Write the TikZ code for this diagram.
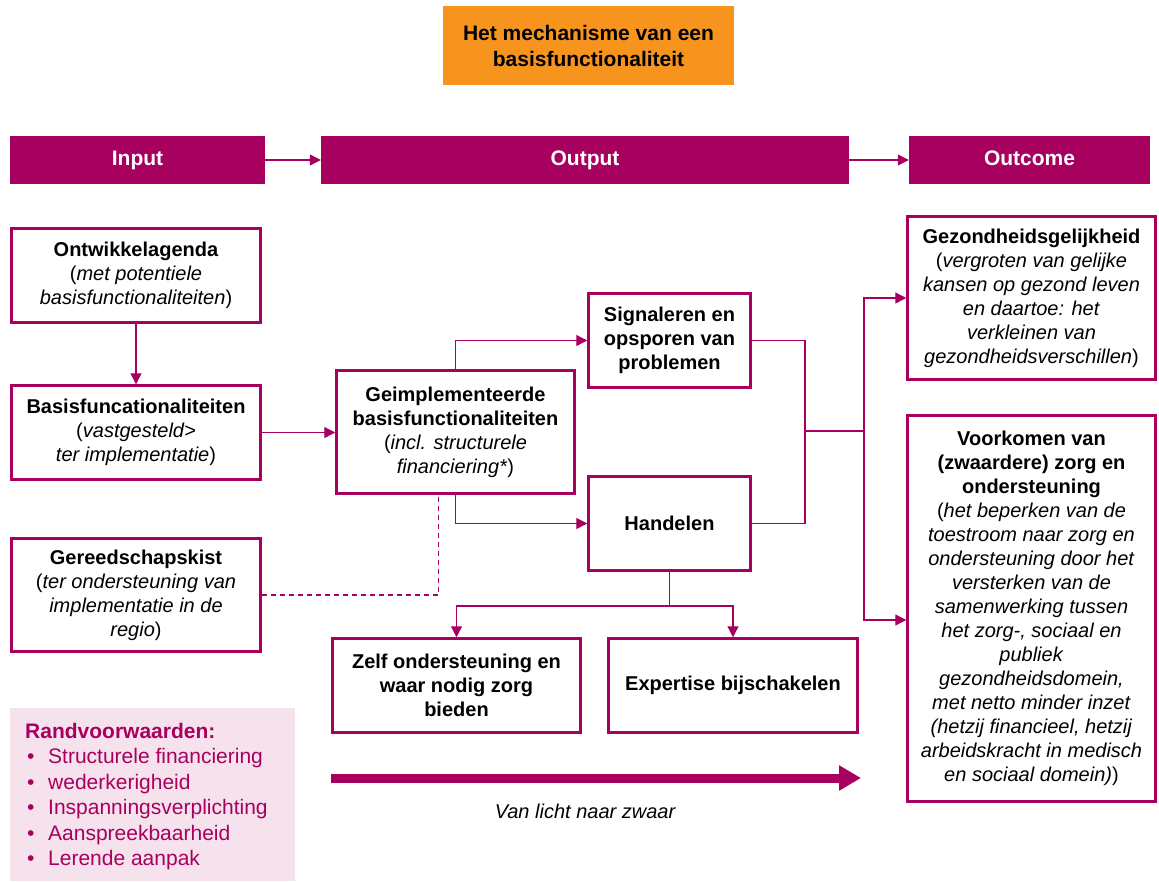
\documentclass[tikz,border=0pt]{standalone}
\usepackage{fontspec}
\setmainfont{Liberation Sans}
\usetikzlibrary{arrows.meta}

\definecolor{paars}{RGB}{168,0,94}
\definecolor{oranje}{RGB}{247,148,30}
\definecolor{lichtroze}{RGB}{245,226,237}

\begin{document}
\begin{tikzpicture}[x=1pt,y=-1pt,
  blok/.style={draw=paars,line width=2.5pt,fill=white,align=center,inner sep=3pt,
    font=\fontsize{20}{24}\selectfont},
  vetblok/.style={blok,font=\fontsize{20}{24}\selectfont\bfseries},
  kop/.style={fill=paars,text=white,minimum height=48pt,inner sep=0pt,
    text height=15pt,text depth=4pt,font=\fontsize{21}{25}\selectfont\bfseries},
  lijn/.style={draw=paars,line width=1.3pt},
  pijl/.style={lijn,-{Triangle[length=11pt,width=11pt]}}]
   \useasboundingbox (0,0) rectangle (1159,881);

   % titel en kopbalken
   \node[fill=oranje,minimum width=291pt,minimum height=79pt,align=center,
     font=\fontsize{21}{26}\selectfont\bfseries] (titel) at (588.5,45.5)
     {Het mechanisme van een\\basisfunctionaliteit};
   \node[kop,minimum width=255pt] (input)   at (137.5,160)  {Input};
   \node[kop,minimum width=528pt] (output)  at (585,160)    {Output};
   \node[kop,minimum width=241pt] (outcome) at (1029.5,160) {Outcome};

   % input
   \node[blok,minimum width=249pt,minimum height=94pt] (ontw) at (136,275.5)
     {\textbf{Ontwikkelagenda}\\(\textit{met potentiele}\\\textit{basisfunctionaliteiten})};
   \node[blok,minimum width=249pt,minimum height=94pt] (basis) at (136,432.5)
     {\textbf{Basisfuncationaliteiten}\\(\textit{vastgesteld>}\\\textit{ter implementatie})};
   \node[blok,minimum width=249pt,minimum height=113pt] (gereed) at (136,595)
     {\textbf{Gereedschapskist}\\(\textit{ter ondersteuning van}\\\textit{implementatie in de}\\\textit{regio})};

   % output
   \node[blok,minimum width=238pt,minimum height=123pt] (geimpl) at (455.5,432)
     {\textbf{Geimplementeerde}\\\textbf{basisfunctionaliteiten}\\(\textit{incl. structurele}\\\textit{financiering*})};
   \node[vetblok,minimum width=162pt,minimum height=94pt] (signal) at (669.5,340.5)
     {Signaleren en\\opsporen van\\problemen};
   \node[vetblok,minimum width=162pt,minimum height=94pt] (handel) at (669.5,523.5) {Handelen};
   \node[vetblok,minimum width=248pt,minimum height=94pt] (zelf) at (456.5,685.5)
     {Zelf ondersteuning en\\waar nodig zorg\\bieden};
   \node[vetblok,minimum width=249pt,minimum height=94pt] (expert) at (733,685.5)
     {Expertise bijschakelen};

   % outcome
   \node[blok,minimum width=248pt,minimum height=163pt] (gezond) at (1031.5,298)
     {\textbf{Gezondheidsgelijkheid}\\(\textit{vergroten van gelijke}\\\textit{kansen op gezond leven}\\
      \textit{en daartoe: het}\\\textit{verkleinen van}\\\textit{gezondheidsverschillen})};
   \node[blok,minimum width=248pt,minimum height=386pt] (voork) at (1031.5,608.5)
     {\textbf{Voorkomen van}\\\textbf{(zwaardere) zorg en}\\\textbf{ondersteuning}\\
      (\textit{het beperken van de}\\\textit{toestroom naar zorg en}\\\textit{ondersteuning door het}\\
      \textit{versterken van de}\\\textit{samenwerking tussen}\\\textit{het zorg-, sociaal en}\\
      \textit{publiek}\\\textit{gezondheidsdomein,}\\\textit{met netto minder inzet}\\
      \textit{(hetzij financieel, hetzij}\\\textit{arbeidskracht in medisch}\\\textit{en sociaal domein)})};

   % randvoorwaarden
   \node[fill=lichtroze,minimum width=285pt,minimum height=173pt,inner sep=0pt] (rand) at (152.5,794.5) {};
   \node[anchor=north west,align=left,inner sep=0pt,text=paars,
     font=\fontsize{21}{25.4}\selectfont] (randtekst) at (25,723)
     {\textbf{Randvoorwaarden:}\\
      \hspace{2pt}\makebox[21pt][l]{•}Structurele financiering\\
      \hspace{2pt}\makebox[21pt][l]{•}wederkerigheid\\
      \hspace{2pt}\makebox[21pt][l]{•}Inspanningsverplichting\\
      \hspace{2pt}\makebox[21pt][l]{•}Aanspreekbaarheid\\
      \hspace{2pt}\makebox[21pt][l]{•}Lerende aanpak};

   % van licht naar zwaar
   \coordinate (lichtbegin) at (331,778);
   \coordinate (zwaareind) at (861,778);
   \draw[paars,line width=9pt,-{Triangle[length=22pt,width=24pt]}] (lichtbegin) -- (zwaareind);
   \node[font=\fontsize{20}{24}\selectfont\itshape] (richting) at (585,811) {Van licht naar zwaar};

   % verbindingen
   \draw[pijl] (input) -- (output);
   \draw[pijl] (output) -- (outcome);
   \draw[pijl] (ontw) -- (basis);
   \draw[pijl] (basis.east) -- (geimpl.west |- basis.east);
   \draw[pijl] (geimpl.north) |- (signal.west);
   \draw[pijl] (geimpl.south) |- (handel.west);
   \draw[lijn,dash pattern=on 5pt off 4pt] (gereed.east) -| ([xshift=-17pt]geimpl.south);

   \coordinate (knoop) at (805,431);
   \coordinate (splits) at (864,431);
   \draw[lijn] (signal.east) -| (knoop) |- (handel.east);
   \draw[lijn] (knoop) -- (splits);
   \draw[pijl] (splits) |- (gezond.west);
   \draw[pijl] (splits) |- ([yshift=-11.5pt]voork.west);

   \coordinate (tak) at (669.5,606);
   \draw[lijn] (handel.south) -- (tak);
   \draw[pijl] (tak) -| (zelf.north);
   \draw[pijl] (tak) -| (expert.north);
\end{tikzpicture}
\end{document}
